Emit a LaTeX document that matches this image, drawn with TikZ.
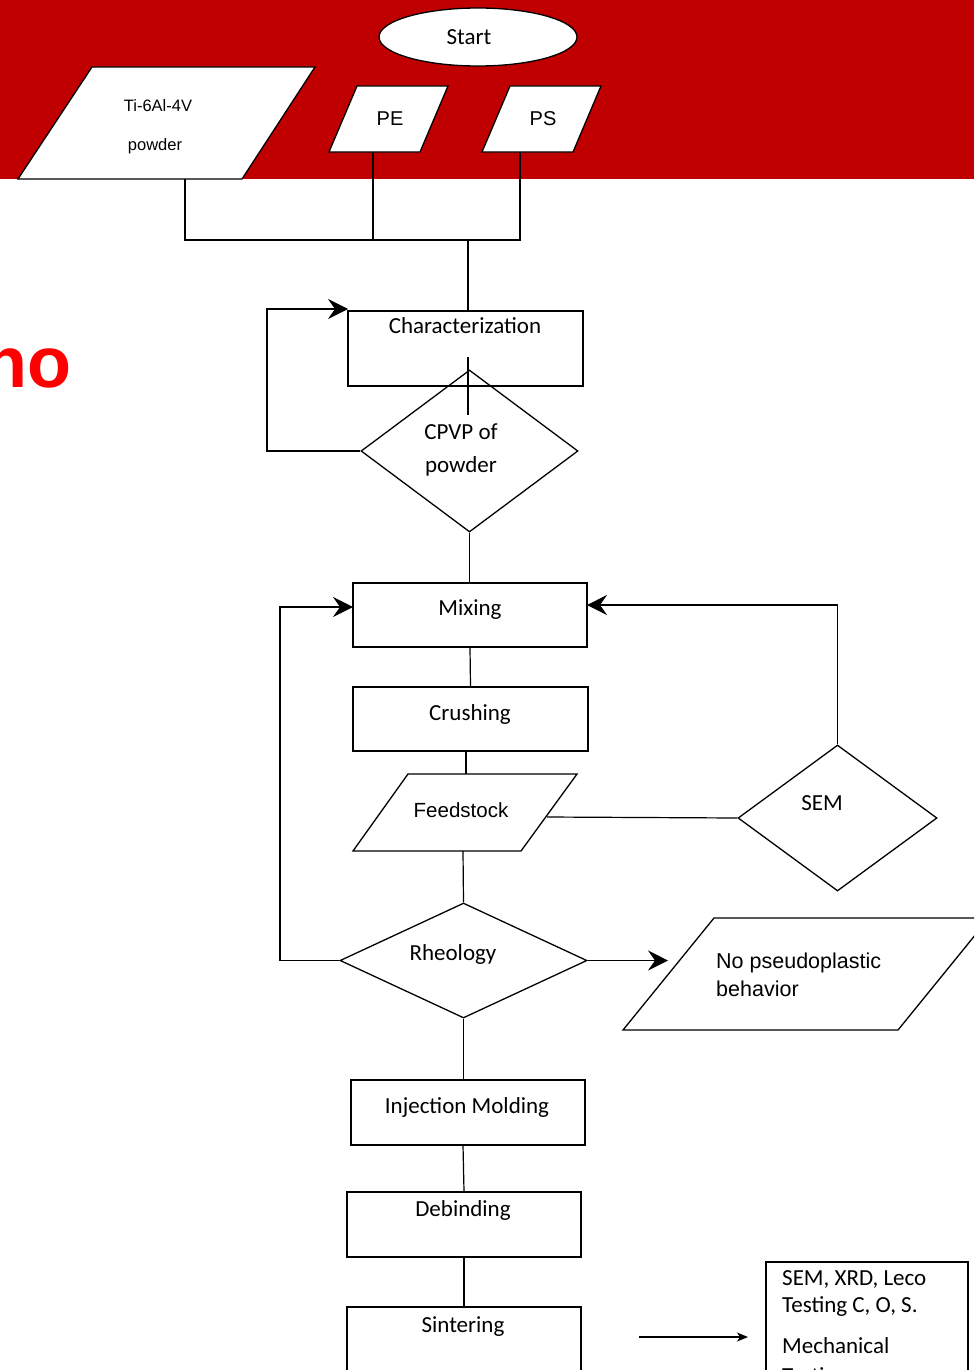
\documentclass[tikz,border=0pt]{standalone}
\usepackage{fontspec}
\setmainfont{Carlito}
\newfontfamily\arial{Liberation Sans}
\usetikzlibrary{shapes.geometric,arrows.meta}
\definecolor{banner}{HTML}{C00000}
\definecolor{hot}{HTML}{FF0000}

\begin{document}
\begin{tikzpicture}[x=1pt,y=-1pt,
  box/.style={draw=black, line width=1.3pt, rectangle, inner sep=0pt},
  dia/.style={draw=black, line width=1.3pt, diamond, inner sep=0pt},
  para/.style={draw=black, fill=white, line width=1.3pt, line join=miter},
  lbl/.style={font=\fontsize{23}{30}\selectfont, anchor=base, inner sep=0pt},
  albl/.style={font=\arial\fontsize{20.5}{27}\selectfont, anchor=base, inner sep=0pt},
  link/.style={draw=black, line width=1.2pt},
  arr/.style={link, -{Stealth[length=20pt,width=20pt,inset=7pt]}},
  sarr/.style={link, -{Stealth[length=11pt,width=9pt,inset=3pt]}},
]
\useasboundingbox (0,0) rectangle (974,1370);
\clip (0,0) rectangle (974,1370);
\fill[white] (0,0) rectangle (974,1370);
\fill[banner] (0,0) rectangle (974,179);

% cut-off word on the left
\node[anchor=base west, inner sep=0pt, text=hot,
      font=\arial\bfseries\fontsize{72}{72}\selectfont] (cutword) at (-17,387) {no};

% start
\node[draw=black, fill=white, line width=1.3pt, ellipse, inner sep=0pt,
      minimum width=198pt, minimum height=58pt] (start) at (478,37) {};
\node[lbl] (startT) at (469,45) {Start};

% input materials
\draw[para] (18,179) -- (242,179) -- (315,67) -- (92,67) -- cycle;
\draw[para] (329,152) -- (420,152) -- (448,86) -- (357,86) -- cycle;
\draw[para] (482,152) -- (573,152) -- (601,86) -- (510,86) -- cycle;
\node[albl, font=\arial\fontsize{16.5}{20}\selectfont] (tiA) at (158,112) {Ti-6Al-4V};
\node[albl, font=\arial\fontsize{16.5}{20}\selectfont] (tiB) at (155,150) {powder};
\node[albl, font=\arial\fontsize{20}{24}\selectfont] (pe) at (390,126) {PE};
\node[albl, font=\arial\fontsize{20}{24}\selectfont] (ps) at (543,126) {PS};

\coordinate (tiOut) at (185,179);
\coordinate (peOut) at (373,152);
\coordinate (psOut) at (520,152);
\coordinate (jL) at (185,240);
\coordinate (jR) at (520,240);
\coordinate (peJ) at (373,240);
\coordinate (jM) at (468,240);

% process boxes
\node[box, minimum width=235pt, minimum height=75pt] (char) at (465.5,348.5) {};
\node[lbl] (charT) at (465,333) {Characterization};
\node[dia, minimum width=217pt, minimum height=162pt] (cpvp) at (469.5,451) {};
\node[lbl] (cpvpA) at (461,439) {CPVP of};
\node[lbl] (cpvpB) at (461,472) {powder};

\node[box, minimum width=234pt, minimum height=64pt] (mix) at (470,615) {};
\node[lbl] (mixT) at (470,615) {Mixing};
\node[box, minimum width=235pt, minimum height=64pt] (crush) at (470.5,719) {};
\node[lbl] (crushT) at (470,720) {Crushing};

\draw[para] (353,851) -- (521,851) -- (577,774) -- (408,774) -- cycle;
\node[albl] (feedT) at (461,817) {Feedstock};
\coordinate (feedTop) at (466,774);
\coordinate (feedR) at (547,817);
\coordinate (feedB) at (463,851);

\node[dia, minimum width=199pt, minimum height=146pt] (sem) at (837.5,818) {};
\node[lbl] (semT) at (822,810) {SEM};

\node[dia, minimum width=247pt, minimum height=115pt] (rheo) at (463.5,960.5) {};
\node[lbl] (rheoT) at (453,960) {Rheology};

\draw[para] (623,1030) -- (898,1030) -- (989,918) -- (714,918) -- cycle;
\node[albl, anchor=base west, font=\arial\fontsize{21.5}{27}\selectfont] (noA) at (716,968) {No pseudoplastic};
\node[albl, anchor=base west, font=\arial\fontsize{21.5}{27}\selectfont] (noB) at (716,996) {behavior};

\node[box, minimum width=234pt, minimum height=65pt] (inj) at (468,1112.5) {};
\node[lbl] (injT) at (467,1113) {Injection Molding};
\node[box, minimum width=234pt, minimum height=65pt] (deb) at (464,1224.5) {};
\node[lbl] (debT) at (463,1216) {Debinding};
\node[box, minimum width=234pt, minimum height=93pt] (sint) at (464,1353.5) {};
\node[lbl] (sintT) at (463,1332) {Sintering};

\node[box, minimum width=202pt, minimum height=138pt] (test) at (867,1331) {};
\node[lbl, anchor=base west] (testA) at (782,1285) {SEM, XRD, Leco};
\node[lbl, anchor=base west] (testB) at (782,1312) {Testing C, O, S.};
\node[lbl, anchor=base west] (testC) at (782,1353) {Mechanical};
\node[lbl, anchor=base west] (testD) at (782,1383) {Testing};

% connectors
\draw[link] (tiOut) -- (jL) -- (jR) -- (psOut);
\draw[link] (peOut) -- (peJ);
\draw[link] (jM) -- (jM |- char.north);

\coordinate (tickA) at (468,357);
\coordinate (tickB) at (468,415);
\draw[link] (tickA) -- (tickB);

\coordinate (loopA) at (267,451);
\coordinate (charIn) at (348,309);
\draw[arr] (cpvp.west) -- (loopA) |- (charIn);

\draw[link] (cpvp.south) -- (cpvp.south |- mix.north);
\draw[link] (mix.south) -- (crush.north);
\draw[link] (crush.south -| feedTop) -- (feedTop);
\draw[link] (feedR) -- (sem.west);

\coordinate (mixR) at (587,605);
\draw[arr] (sem.north) |- (mixR);

\draw[link] (feedB) -- (rheo.north);

\coordinate (loopB) at (280,960.5);
\coordinate (mixL) at (353,607);
\draw[arr] (rheo.west) -- (loopB) |- (mixL);

\coordinate (noIn) at (668,960.5);
\draw[arr] (rheo.east) -- (noIn);

\draw[link] (rheo.south) -- (rheo.south |- inj.north);
\draw[link] (463,1145) -- (deb.north);
\draw[link] (deb.south) -- (sint.north);

\coordinate (outA) at (639,1337);
\coordinate (outB) at (748,1337);
\draw[sarr] (outA) -- (outB);
\end{tikzpicture}
\end{document}
